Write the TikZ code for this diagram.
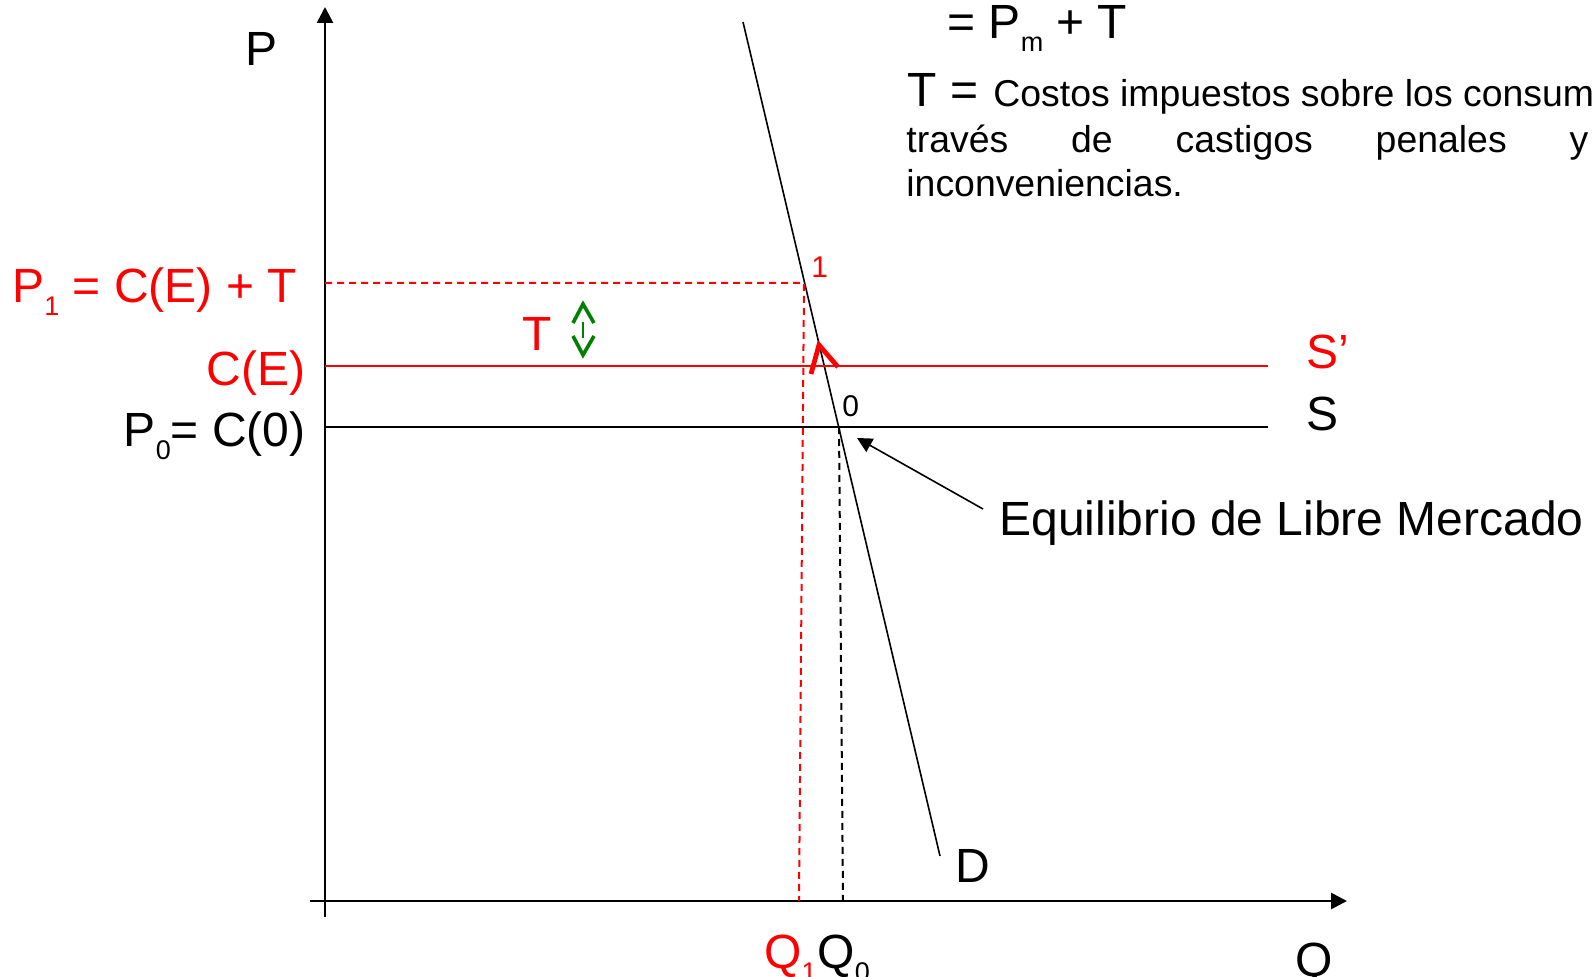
\documentclass[tikz,border=0pt]{standalone}
\usepackage{fontspec}
\setmainfont{Liberation Sans}
\usetikzlibrary{arrows.meta}
\newcommand{\lowsub}[1]{\raisebox{-6.5pt}{\fontsize{13.5}{13.5}\selectfont #1}}

\begin{document}
\begin{tikzpicture}[x=0.5pt,y=-0.5pt,
  biglabel/.style={inner sep=0pt, font=\fontsize{24}{26}\selectfont},
  smalllabel/.style={inner sep=0pt, font=\fontsize{15}{16}\selectfont},
  bodytext/.style={inner sep=0pt, font=\fontsize{18.7}{22}\selectfont},
  axis/.style={line width=1.35pt, -{Triangle[length=8pt,width=8pt]}},
  curve/.style={line width=0.8pt},
  guide/.style={line width=1pt, dash pattern=on 3.5pt off 2.5pt},
  gapmark/.style={green!50!black, line width=1.8pt}]
\useasboundingbox (0,0) rectangle (1595,977);
% axes
\coordinate (pbot) at (325,917);
\coordinate (ptop) at (325,7);
\coordinate (qleft) at (310,901);
\coordinate (qright) at (1347,901);
\draw [axis] (pbot) -- (ptop);
\draw [axis] (qleft) -- (qright);
\node [biglabel, anchor=base west] (plab) at (245,66) {P};
\node [biglabel, anchor=base west] (qlab) at (1295,976) {Q};
% demand
\coordinate (dtop) at (743,22);
\coordinate (dbot) at (940,856);
\draw [curve] (dtop) -- (dbot);
\node [biglabel, anchor=base west] (dlab) at (955,882) {D};
% supply lines
\coordinate (sa) at (325,427);
\coordinate (sb) at (1268,427);
\coordinate (spa) at (325,366);
\coordinate (spb) at (1268,366);
\draw [curve] (sa) -- (sb);
\draw [curve, red] (spa) -- (spb);
\node [biglabel, anchor=base west, red] (splab) at (1306,369) {S’};
\node [biglabel, anchor=base west] (slab) at (1306,431) {S};
% equilibria and guides
\coordinate (e0) at (839,427);
\coordinate (e1) at (804,283);
\coordinate (p1) at (325,283);
\coordinate (q1) at (799,901);
\coordinate (q0) at (843,901);
\draw [guide, red] (p1) -- (e1) -- (q1);
\draw [guide] (e0) -- (q0);
\node [smalllabel, anchor=base west, red] (onelab) at (811,278) {1};
\node [smalllabel, anchor=base west] (zerolab) at (842,417) {0};
\draw [red, line width=2.4pt, line join=miter] (811,374) -- (819,345) -- (838,367);
% tax gap
\node [biglabel, anchor=base west, red] (tlab) at (522,351) {T};
\draw [gapmark] (573,323) -- (583,304) -- (594,323);
\draw [gapmark, line width=1.2pt] (583,322) -- (583,338);
\draw [gapmark] (573,336) -- (583,355) -- (594,336);
% price labels
\node [biglabel, anchor=base west, red] (p1lab) at (12,303) {P\lowsub{1} = C(E) + T};
\node [biglabel, anchor=base east, red] (celab) at (306,386) {C(E)};
\node [biglabel, anchor=base east] (p0lab) at (306,447) {P\lowsub{0}= C(0)};
\node [biglabel, anchor=base west, red] (q1lab) at (764,968) {Q\lowsub{1}};
\node [biglabel, anchor=base west] (q0lab) at (q1lab.base east) {Q\lowsub{0}};
% free market note
\node [inner sep=0pt, anchor=base west, font=\fontsize{24}{26}\selectfont] (eqlab) at (999,536) {Equilibrio de Libre Mercado};
\coordinate (eqtail) at (983,509);
\coordinate (eqtip) at (857,438);
\draw [line width=0.8pt, -{Triangle[length=7.5pt,width=7.5pt]}] (eqtail) -- (eqtip);
% definition of T
\node [biglabel, anchor=base west] (pmlab) at (947,39) {= P\lowsub{m} + T};
\node [biglabel, anchor=base west] (tdef) at (907,107) {T =};
\node [bodytext, anchor=base west] (costos) at (993,107) {Costos impuestos sobre los consum};
\node [bodytext, anchor=base west] (castigos) at (906,153) {\makebox[341pt][l]{través\hfill de\hfill castigos\hfill penales\hfill y}};
\node [bodytext, anchor=base west] (incon) at (906,197) {inconveniencias.};
\end{tikzpicture}
\end{document}
